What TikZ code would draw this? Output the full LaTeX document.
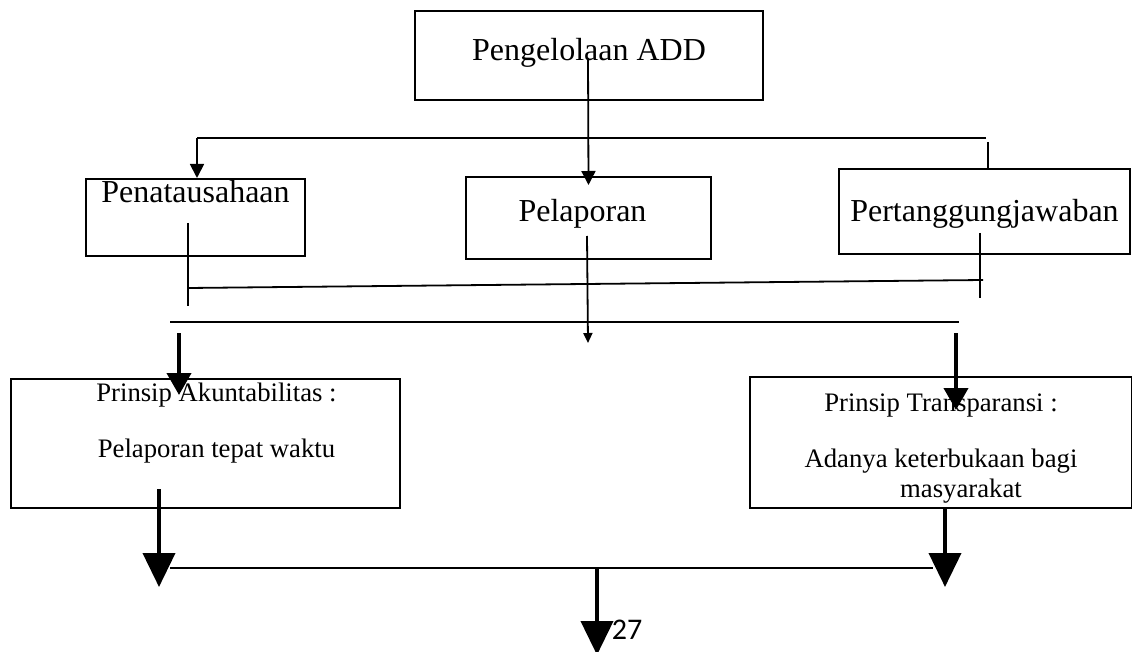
\documentclass[tikz,border=0pt]{standalone}
\usepackage{fontspec}
\setmainfont{Liberation Serif}
\newfontfamily\pagenumfont{Carlito}
\usetikzlibrary{arrows.meta}

\begin{document}
\begin{tikzpicture}[
    x=1pt, y=-1pt,
    box/.style={draw, rectangle, line width=2pt, anchor=north west,
                inner sep=0pt, font=\fontsize{32}{38}\selectfont},
    prinsip/.style={box, align=center, font=\fontsize{26.7}{30}\selectfont},
    ln/.style={line width=1.8pt},
    tinyarr/.style={ln, -{Triangle[width=9pt,length=10pt]}},
    smallarr/.style={ln, -{Triangle[width=14pt,length=14pt]}},
    midarr/.style={line width=4pt, -{Triangle[width=24pt,length=22pt]}},
    bigarr/.style={line width=4pt, -{Triangle[width=32pt,length=34pt]}},
]
\useasboundingbox (0,0) rectangle (1132,652);

% boxes
\node[box, minimum width=348pt, text height=50pt, text depth=39pt] (add) at (414,10) {Pengelolaan ADD};
\node[box, minimum width=219pt, text height=24pt, text depth=53pt] (tata) at (85,178) {Penatausahaan};
\node[box, minimum width=245pt, text height=45pt, text depth=37pt] (lapor) at (465,176) {Pelaporan\hspace*{12pt}};
\node[box, minimum width=291pt, text height=53pt, text depth=32pt] (tgjwb) at (838,168) {Pertanggungjawaban};
\node[prinsip, minimum width=389pt, text height=78pt, text depth=51pt] (akun) at (10,378)
     {\hspace*{22pt}Prinsip Akuntabilitas :\\[26pt] \hspace*{22pt}Pelaporan tepat waktu};
\node[prinsip, minimum width=382pt, text height=120pt, text depth=11pt] (trans) at (749,376)
     {Prinsip Transparansi :\\[26pt] Adanya keterbukaan bagi\\ \hspace*{40pt}masyarakat};

% free ends
\coordinate (addin) at (588,58);
\coordinate (barw) at (197,138);
\coordinate (bare) at (986,138);
\coordinate (tgtop) at (988,142);
\coordinate (ta1) at (188,223);
\coordinate (ta2) at (188,306);
\coordinate (tg1) at (980,233);
\coordinate (tg2) at (980,298);
\coordinate (mixw) at (188,288);
\coordinate (mixe) at (983,280);
\coordinate (la1) at (587,236);
\coordinate (la2) at (588,343);
\coordinate (gatew) at (170,322);
\coordinate (gatee) at (959,322);
\coordinate (akin) at (179,333);
\coordinate (trin) at (956,333);
\coordinate (akout) at (159,489);
\coordinate (akend) at (159,587);
\coordinate (trend) at (945,587);
\coordinate (basew) at (170,568);
\coordinate (basee) at (933,568);
\coordinate (basemid) at (597,568);
\coordinate (baseend) at (597,655);

% top part
\draw[smallarr] (addin) -- ([yshift=-9pt]lapor.north);
\draw[ln] (bare) -- (barw);
\draw[smallarr] (barw) -- (barw |- tata.north);
\draw[ln] (tgtop) -- (tgtop |- tgjwb.north);

% collecting lines
\draw[ln] (ta1) -- (ta2);
\draw[ln] (tg1) -- (tg2);
\draw[ln] (mixw) -- (mixe);
\draw[tinyarr] (la1) -- (la2);
\draw[ln] (gatew) -- (gatee);

% principles
\draw[midarr] (akin) -- ([yshift=-17pt]akin |- akun.north);
\draw[midarr] (trin) -- ([yshift=-34pt]trin |- trans.north);
\draw[bigarr] (akout) -- (akend);
\draw[bigarr] (trend |- trans.south) -- (trend);
\draw[ln] (basew) -- (basee);
\draw[bigarr] (basemid) -- (baseend);
\node[font=\pagenumfont\fontsize{30}{36}\selectfont] (pgno) at (627,630) {27};
\end{tikzpicture}
\end{document}
